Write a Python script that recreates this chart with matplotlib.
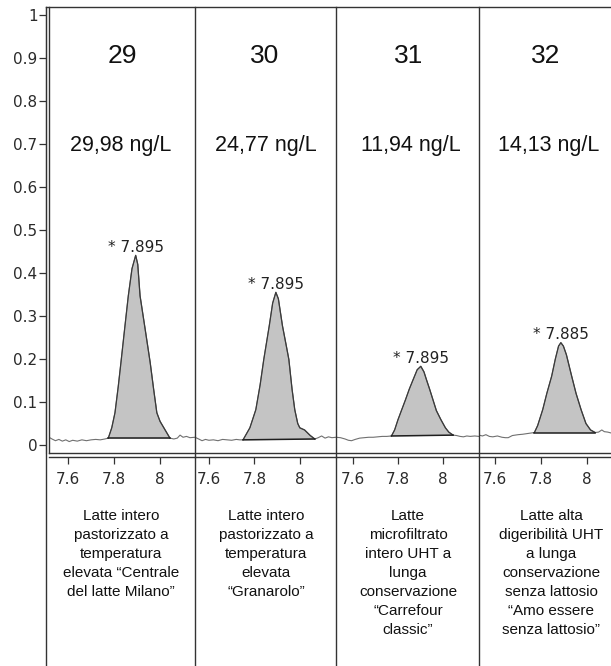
import numpy as np
import matplotlib
matplotlib.use("Agg")
import matplotlib.pyplot as plt
from matplotlib.lines import Line2D

W, H = 611, 666

sample_ids = ["29", "30", "31", "32"]
concentrations = ["29,98 ng/L", "24,77 ng/L", "11,94 ng/L", "14,13 ng/L"]
peak_labels = ["* 7.895", "* 7.895", "* 7.895", "* 7.885"]
descriptions = [
    "Latte intero\npastorizzato a\ntemperatura\nelevata “Centrale\ndel latte Milano”",
    "Latte intero\npastorizzato a\ntemperatura\nelevata\n“Granarolo”",
    "Latte\nmicrofiltrato\nintero UHT a\nlunga\nconservazione\n“Carrefour\nclassic”",
    "Latte alta\ndigeribilità UHT\na lunga\nconservazione\nsenza lattosio\n“Amo essere\nsenza lattosio”",
]
x_ticks = [7.6, 7.8, 8.0]
x_tick_labels = ["7.6", "7.8", "8"]
y_ticks = [0, 0.1, 0.2, 0.3, 0.4, 0.5, 0.6, 0.7, 0.8, 0.9, 1.0]
y_tick_labels = ["0", "0.1", "0.2", "0.3", "0.4", "0.5", "0.6", "0.7", "0.8", "0.9", "1"]

# retention time (min) / signal
rt_29 = [7.517, 7.53, 7.545, 7.56, 7.575, 7.59, 7.605, 7.62, 7.64, 7.66, 7.68, 7.70, 7.72, 7.74,
         7.76, 7.775, 7.79, 7.804, 7.818, 7.830, 7.846, 7.862, 7.878, 7.894, 7.903, 7.913, 7.935,
         7.957, 7.972, 7.986, 8.00, 8.022, 8.043, 8.06, 8.075, 8.087, 8.10, 8.115, 8.13, 8.152]
sig_29 = [0.018, 0.014, 0.010, 0.013, 0.009, 0.012, 0.008, 0.011, 0.009, 0.012, 0.010, 0.012, 0.013, 0.012,
          0.014, 0.016, 0.040, 0.075, 0.135, 0.192, 0.270, 0.347, 0.410, 0.441, 0.420, 0.347, 0.270,
          0.192, 0.130, 0.075, 0.055, 0.035, 0.016, 0.014, 0.016, 0.023, 0.018, 0.020, 0.017, 0.018]

rt_30 = [7.539, 7.555, 7.57, 7.585, 7.60, 7.62, 7.64, 7.66, 7.68, 7.70, 7.72, 7.735, 7.750, 7.78,
         7.806, 7.825, 7.841, 7.865, 7.88, 7.894, 7.905, 7.923, 7.94, 7.951, 7.965, 7.977, 7.99,
         7.999, 8.02, 8.045, 8.065, 8.08, 8.095, 8.11, 8.125, 8.14, 8.158]
sig_30 = [0.018, 0.014, 0.010, 0.013, 0.011, 0.012, 0.010, 0.013, 0.012, 0.011, 0.013, 0.012, 0.012, 0.040,
          0.082, 0.140, 0.199, 0.277, 0.330, 0.355, 0.340, 0.277, 0.230, 0.199, 0.130, 0.082, 0.050,
          0.040, 0.035, 0.022, 0.014, 0.017, 0.021, 0.016, 0.019, 0.017, 0.018]

rt_31 = [7.525, 7.545, 7.565, 7.58, 7.594, 7.61, 7.63, 7.65, 7.67, 7.69, 7.71, 7.73, 7.75, 7.771,
         7.785, 7.80, 7.815, 7.833, 7.85, 7.867, 7.885, 7.901, 7.915, 7.926, 7.94, 7.955, 7.97,
         7.99, 8.01, 8.025, 8.044, 8.06, 8.075, 8.09, 8.105, 8.12, 8.14, 8.159]
sig_31 = [0.018, 0.017, 0.014, 0.011, 0.010, 0.013, 0.016, 0.017, 0.018, 0.018, 0.019, 0.020, 0.020, 0.021,
          0.035, 0.059, 0.080, 0.105, 0.130, 0.152, 0.175, 0.183, 0.170, 0.152, 0.130, 0.105, 0.080,
          0.059, 0.040, 0.030, 0.023, 0.022, 0.020, 0.019, 0.021, 0.020, 0.021, 0.020]

rt_32 = [7.530, 7.545, 7.56, 7.575, 7.59, 7.61, 7.63, 7.645, 7.657, 7.675, 7.70, 7.72, 7.745, 7.771,
         7.785, 7.807, 7.825, 7.846, 7.862, 7.876, 7.886, 7.897, 7.91, 7.933, 7.952, 7.974, 7.995,
         8.015, 8.035, 8.05, 8.064, 8.075, 8.09, 8.104]
sig_32 = [0.023, 0.021, 0.024, 0.020, 0.019, 0.021, 0.018, 0.017, 0.017, 0.022, 0.024, 0.025, 0.027, 0.029,
          0.045, 0.082, 0.120, 0.160, 0.200, 0.230, 0.238, 0.230, 0.210, 0.160, 0.120, 0.082, 0.050,
          0.035, 0.029, 0.030, 0.035, 0.031, 0.030, 0.028]

peak_bounds = [(7.775, 8.043), (7.750, 8.065), (7.771, 8.044), (7.771, 8.035)]
x_limits = [(7.517, 8.152), (7.539, 8.158), (7.525, 8.159), (7.530, 8.104)]
traces = [(rt_29, sig_29), (rt_30, sig_30), (rt_31, sig_31), (rt_32, sig_32)]

# layout in pixels
panels_px = [(49, 195), (195, 336), (336, 479), (479, 611)]
top_px, bot_px = 7, 453
title_x = [122, 265, 409, 546]
conc_x = [121, 266, 411, 549]
desc_x = [121, 266, 408, 551]

fig = plt.figure(figsize=(W / 100, H / 100), dpi=100)
fig.patch.set_facecolor("white")

line_col = "#333333"
tick_col = "#2a2a2a"
sans = ["Liberation Sans", "DejaVu Sans"]

for i, (l, r) in enumerate(panels_px):
    ax = fig.add_axes([l / W, 1 - bot_px / H, (r - l) / W, (bot_px - top_px) / H])
    ax.set_xlim(*x_limits[i])
    ax.set_ylim(-0.0186, 1.0186)
    for s in ["top", "right", "left"]:
        ax.spines[s].set_visible(False)
    ax.spines["bottom"].set_position(("outward", 3))
    ax.spines["bottom"].set_color(line_col)
    ax.spines["bottom"].set_linewidth(1.0)
    ax.set_xticks(x_ticks)
    ax.set_xticklabels(x_tick_labels)
    ax.tick_params(axis="x", direction="out", length=5, width=0.9, color=line_col,
                   labelsize=11, labelcolor=tick_col, pad=6)
    if i == 0:
        ax.spines["left"].set_visible(True)
        ax.spines["left"].set_position(("outward", 2.2))
        ax.spines["left"].set_color(line_col)
        ax.set_yticks(y_ticks)
        ax.set_yticklabels(y_tick_labels)
        ax.tick_params(axis="y", direction="out", length=5, width=0.9, color=line_col,
                       labelsize=11, labelcolor=tick_col, pad=1)
    else:
        ax.set_yticks([])
    ax.patch.set_alpha(0)

    x = np.array(traces[i][0])
    y = np.array(traces[i][1])
    a, b = peak_bounds[i]
    ax.plot(x, y, color="#707070", lw=0.8)
    m = (x >= a) & (x <= b)
    ya, yb = np.interp([a, b], x, y)
    base = np.interp(x[m], [a, b], [ya, yb])
    ax.fill_between(x[m], base, y[m], color="#c4c4c4", lw=0)
    ax.plot(x[m], y[m], color="#3a3a3a", lw=0.9)
    ax.plot([a, b], [ya, yb], color="#1e1e1e", lw=1.1)
    k = int(np.argmax(y))
    ax.annotate(peak_labels[i], (x[k], y[k]), xytext=(0, 0.5), textcoords="offset points",
                ha="center", va="bottom", fontsize=11, color="#222222")

    fig.text(title_x[i] / W, 1 - 62.7 / H, sample_ids[i], ha="center", va="baseline",
             fontsize=19, family=sans, color="#111111")
    fig.text(conc_x[i] / W, 1 - 150.7 / H, concentrations[i], ha="center", va="baseline",
             fontsize=15.5, family=sans, color="#111111")
    fig.text(desc_x[i] / W, 1 - 509 / H, descriptions[i], ha="center", va="top",
             multialignment="center", fontsize=11, linespacing=1.45, family=sans,
             color="#111111")


def hline(x0, x1, y, lw=1.0):
    fig.add_artist(Line2D([x0 / W, x1 / W], [1 - y / H, 1 - y / H],
                          transform=fig.transFigure, color=line_col, lw=lw))


def vline(x, y0, y1, lw=1.0):
    fig.add_artist(Line2D([x / W, x / W], [1 - y0 / H, 1 - y1 / H],
                          transform=fig.transFigure, color=line_col, lw=lw))


hline(46, 611, top_px)
hline(49, 611, bot_px)
vline(49, top_px, bot_px)
for xd in [46, 195, 336, 479]:
    vline(xd, top_px, H)

fig.savefig("out.png", dpi=100)
